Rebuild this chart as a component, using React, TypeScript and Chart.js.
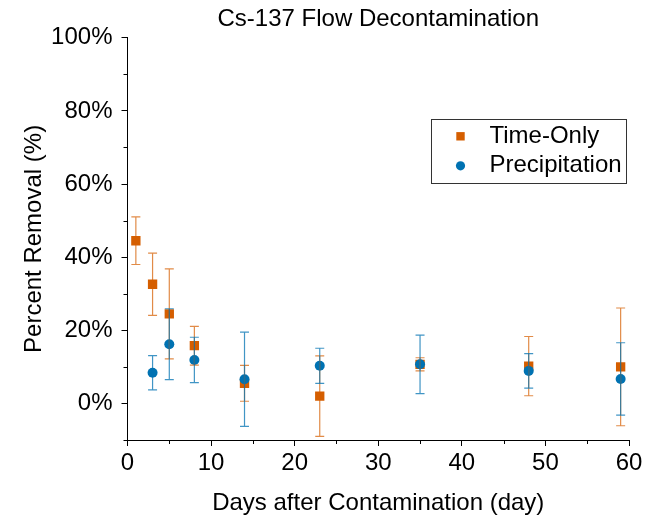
import React, { useEffect, useRef } from "react";
import { Chart, registerables } from "chart.js";

Chart.register(...registerables);

const titleText = "Cs-137 Flow Decontamination";
const xTitle = "Days after Contamination (day)";
const yTitle = "Percent Removal (%)";

const seriesNames = ["Time-Only", "Precipitation"];
const seriesColors = ["#D55E00", "#0072B2"];

const timeOnlyDays = [1, 3, 5, 8, 14, 23, 35, 48, 59];
const timeOnly = [44.5, 32.6, 24.5, 15.8, 5.5, 2.0, 10.7, 10.2, 10.0];
const timeOnlyErr = [6.5, 8.5, 12.3, 5.3, 4.9, 11.0, 1.8, 8.1, 16.1];

const precipDays = [3, 5, 8, 14, 23, 35, 48, 59];
const precipitation = [8.4, 16.2, 11.9, 6.6, 10.3, 10.7, 8.9, 6.7];
const precipitationErr = [4.7, 9.7, 6.2, 12.9, 4.8, 8.0, 4.7, 9.9];

const xMin = 0;
const xMax = 60;
const xStep = 5;
const xLabelEvery = 10;
const yMin = -10;
const yMax = 100;
const yStep = 10;
const yLabelEvery = 20;

const FONT = "'Liberation Sans', Arial, Helvetica, sans-serif";

const errorSets = [
  { xs: timeOnlyDays, ys: timeOnly, errs: timeOnlyErr, color: "rgba(213,94,0,0.72)" },
  { xs: precipDays, ys: precipitation, errs: precipitationErr, color: "rgba(0,114,178,0.75)" },
];

const errorBarPlugin = {
  id: "errorBars",
  afterDatasetsDraw(chart: any) {
    const { ctx } = chart;
    const xs = chart.scales.x;
    const ys = chart.scales.y;
    ctx.save();
    ctx.lineWidth = 1.2;
    errorSets.forEach((s) => {
      ctx.strokeStyle = s.color;
      s.xs.forEach((xv, i) => {
        const px = xs.getPixelForValue(xv);
        const top = ys.getPixelForValue(s.ys[i] + s.errs[i]);
        const bot = ys.getPixelForValue(s.ys[i] - s.errs[i]);
        const cap = 4.5;
        ctx.beginPath();
        ctx.moveTo(px, top);
        ctx.lineTo(px, bot);
        ctx.moveTo(px - cap, top);
        ctx.lineTo(px + cap, top);
        ctx.moveTo(px - cap, bot);
        ctx.lineTo(px + cap, bot);
        ctx.stroke();
      });
    });
    ctx.restore();
  },
};

const minorTickPlugin = {
  id: "minorTicks",
  afterDraw(chart: any) {
    const { ctx, chartArea } = chart;
    const xs = chart.scales.x;
    const ys = chart.scales.y;
    ctx.save();
    ctx.strokeStyle = "#000";
    ctx.lineWidth = 1;
    ctx.beginPath();
    for (let v = xMin; v <= xMax; v += xStep) {
      if (v % xLabelEvery === 0) continue;
      const px = Math.round(xs.getPixelForValue(v)) + 0.5;
      ctx.moveTo(px, chartArea.bottom);
      ctx.lineTo(px, chartArea.bottom + 4);
    }
    for (let v = yMin; v <= yMax; v += yStep) {
      if (v % yLabelEvery === 0) continue;
      const py = Math.round(ys.getPixelForValue(v)) + 0.5;
      ctx.moveTo(chartArea.left, py);
      ctx.lineTo(chartArea.left - 4, py);
    }
    ctx.stroke();
    ctx.restore();
  },
};

const legendPlugin = {
  id: "boxLegend",
  afterDraw(chart: any) {
    const { ctx, chartArea } = chart;
    const boxW = 195;
    const boxH = 64;
    const right = chartArea.right - 3;
    const left = right - boxW;
    const top = chartArea.top + 81;
    ctx.save();
    ctx.fillStyle = "#fff";
    ctx.fillRect(left, top, boxW, boxH);
    ctx.strokeStyle = "#333";
    ctx.lineWidth = 1;
    ctx.strokeRect(Math.round(left) + 0.5, Math.round(top) + 0.5, boxW, boxH);
    ctx.font = `24px ${FONT}`;
    ctx.textBaseline = "middle";
    ctx.textAlign = "left";
    const rows = [top + 17.5, top + 47];
    ctx.fillStyle = seriesColors[0];
    ctx.fillRect(left + 29.5 - 4.2, rows[0] - 4.2, 8.4, 8.4);
    ctx.fillStyle = seriesColors[1];
    ctx.beginPath();
    ctx.arc(left + 29.5, rows[1], 4.6, 0, Math.PI * 2);
    ctx.fill();
    ctx.fillStyle = "#000";
    ctx.fillText(seriesNames[0], left + 58.5, rows[0]);
    ctx.fillText(seriesNames[1], left + 58.5, rows[1]);
    ctx.restore();
  },
};

export default function App() {
  const canvasRef = useRef<HTMLCanvasElement | null>(null);

  useEffect(() => {
    if (!canvasRef.current) return;
    Chart.defaults.font.family = FONT;
    Chart.defaults.color = "#000";
    const chart = new Chart(canvasRef.current, {
      type: "scatter",
      data: {
        datasets: [
          {
            label: seriesNames[0],
            data: timeOnlyDays.map((d, i) => ({ x: d, y: timeOnly[i] })),
            backgroundColor: seriesColors[0],
            borderColor: seriesColors[0],
            borderWidth: 0,
            pointStyle: "rect",
            pointRadius: 6.6,
            order: 1,
          },
          {
            label: seriesNames[1],
            data: precipDays.map((d, i) => ({ x: d, y: precipitation[i] })),
            backgroundColor: seriesColors[1],
            borderColor: seriesColors[1],
            borderWidth: 0,
            pointStyle: "circle",
            pointRadius: 5,
            order: 0,
          },
        ],
      },
      options: {
        responsive: false,
        animation: false,
        layout: { padding: { left: 0, right: 18, top: 0, bottom: 0 } },
        plugins: {
          legend: { display: false },
          tooltip: { enabled: false },
          title: {
            display: true,
            fullSize: false,
            text: titleText,
            color: "#000",
            font: { size: 24, weight: "normal", family: FONT },
            padding: { top: 5, bottom: 4 },
          },
        },
        scales: {
          x: {
            type: "linear",
            min: xMin,
            max: xMax,
            afterFit(scale: any) {
              scale.height = 81;
            },
            ticks: {
              stepSize: xStep,
              autoSkip: false,
              maxRotation: 0,
              padding: 3,
              color: "#000",
              font: { size: 24, family: FONT },
              callback: (v: any) => (Number(v) % xLabelEvery === 0 ? String(v) : ""),
            },
            grid: {
              drawOnChartArea: false,
              tickLength: 6,
              tickColor: (c: any) =>
                c.tick && c.tick.value % xLabelEvery === 0 ? "#000" : "rgba(0,0,0,0)",
            },
            border: { display: true, color: "#000", width: 1 },
            title: {
              display: true,
              text: xTitle,
              color: "#000",
              font: { size: 24, family: FONT },
              padding: { top: 0, bottom: 3 },
            },
          },
          y: {
            type: "linear",
            min: yMin,
            max: yMax,
            afterFit(scale: any) {
              scale.width = 127.5;
            },
            ticks: {
              stepSize: yStep,
              autoSkip: false,
              padding: 9,
              color: "#000",
              font: { size: 24, family: FONT },
              callback: (v: any) => (Number(v) % yLabelEvery === 0 ? `${v}%` : ""),
            },
            grid: {
              drawOnChartArea: false,
              tickLength: 6,
              tickColor: (c: any) =>
                c.tick && c.tick.value % yLabelEvery === 0 ? "#000" : "rgba(0,0,0,0)",
            },
            border: { display: true, color: "#000", width: 1 },
            title: {
              display: true,
              text: yTitle,
              color: "#000",
              font: { size: 24, family: FONT },
              padding: { top: 19.5, bottom: 0 },
            },
          },
        },
      },
      plugins: [errorBarPlugin, minorTickPlugin, legendPlugin],
    } as any);
    return () => chart.destroy();
  }, []);

  return (
    <div style={{ position: "absolute", left: 0, top: 0, width: 647, height: 521, background: "#fff" }}>
      <canvas ref={canvasRef} width={647} height={521} style={{ width: 647, height: 521, display: "block" }} />
    </div>
  );
}
